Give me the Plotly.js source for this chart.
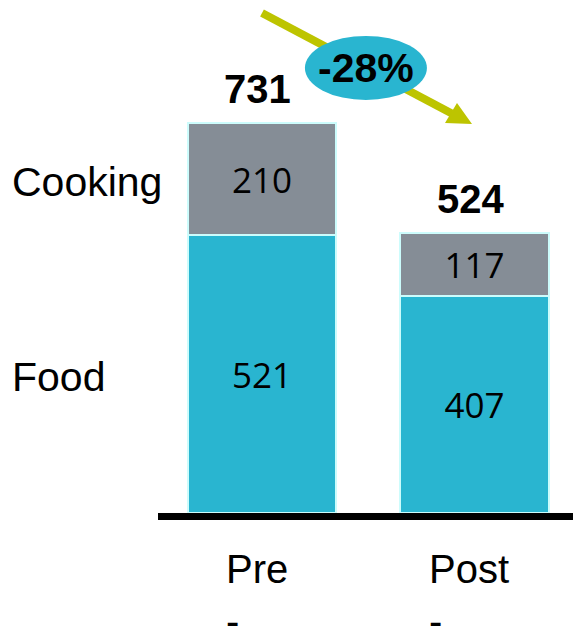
<!DOCTYPE html>
<html>
<head>
<meta charset="utf-8">
<script src="https://cdn.plot.ly/plotly-3.0.1.min.js"></script>
<style>html,body{margin:0;padding:0;background:#fff;}#chart{width:573px;height:628px;}</style>
</head>
<body>
<div id="chart"></div>
<script>
// ---- data ----
const categories = ['Pre', 'Post'];
const tickLabels = ['Pre<br>-', 'Post<br>-'];
const seriesNames = ['Food', 'Cooking'];
const foodValues = [521, 407];
const cookingValues = [210, 117];
const totals = [731, 524];
const changeLabel = '-28%';

// ---- styles ----
const FOOD = '#29B5D0';
const COOK = '#858D96';
const EDGE = '#CCFCFC';
const ARROW = '#BDC400';
const SANS = 'Liberation Sans, Arial, sans-serif';
const NUMF = 'Open Sans, Noto Sans, sans-serif';

const bw = 0.70;
const traces = [
  {type: 'bar', name: seriesNames[0], x: categories, y: foodValues, width: bw,
   marker: {color: FOOD, line: {color: EDGE, width: 2}},
   text: foodValues.map(String), textposition: 'inside', insidetextanchor: 'middle',
   textfont: {family: NUMF, size: 35, color: '#000'}, hoverinfo: 'none'},
  {type: 'bar', name: seriesNames[1], x: categories, y: cookingValues, width: bw,
   marker: {color: COOK, line: {color: EDGE, width: 2}},
   text: cookingValues.map(String), textposition: 'inside', insidetextanchor: 'middle',
   textfont: {family: NUMF, size: 35, color: '#000'}, hoverinfo: 'none'}
];

const annotations = [];
categories.forEach((c, i) => {
  // totals above bars
  annotations.push({x: c, y: totals[i], xref: 'x', yref: 'y', text: '<b>' + totals[i] + '</b>',
    showarrow: false, xanchor: 'center', yanchor: 'bottom', xshift: -4, yshift: 10,
    font: {family: SANS, size: 40, color: '#000'}});
  // category labels (left-aligned lines)
  annotations.push({x: c, y: 0, xref: 'x', yref: 'paper', text: tickLabels[i],
    showarrow: false, xanchor: 'center', yanchor: 'top', align: 'left', xshift: -5, yshift: -32,
    font: {family: SANS, size: 40, color: '#000'}});
});
// series labels at the left, beside the middle of the Pre segments
annotations.push({xref: 'paper', yref: 'y', x: -0.356, y: foodValues[0] + cookingValues[0] / 2,
  text: seriesNames[1], showarrow: false, xanchor: 'left', yanchor: 'middle', yshift: -3,
  font: {family: SANS, size: 41, color: '#000'}});
annotations.push({xref: 'paper', yref: 'y', x: -0.356, y: foodValues[0] / 2,
  text: seriesNames[0], showarrow: false, xanchor: 'left', yanchor: 'middle', yshift: -3,
  font: {family: SANS, size: 41, color: '#000'}});
// change label
annotations.push({xref: 'paper', yref: 'paper', x: 0.501, y: 0.868, text: '<b>' + changeLabel + '</b>',
  showarrow: false, xanchor: 'center', yanchor: 'middle',
  font: {family: SANS, size: 41, color: '#000'}});

const layout = {
  width: 573, height: 628,
  margin: {l: 158, r: 0, t: 0, b: 115},
  paper_bgcolor: '#fff', plot_bgcolor: '#fff',
  barmode: 'stack', showlegend: false,
  xaxis: {type: 'category', range: [-0.489, 1.464],
    showline: true, linecolor: '#000', linewidth: 7, ticks: '', showticklabels: false,
    showgrid: false, zeroline: false, fixedrange: true},
  yaxis: {range: [0, 961.6], visible: false, showgrid: false, zeroline: false, fixedrange: true},
  shapes: [
    // trend arrow shaft
    {type: 'line', xref: 'paper', yref: 'paper', x0: 0.2506, y0: 0.9747, x1: 0.708, y1: 0.7787,
     line: {color: ARROW, width: 8}, layer: 'above'},
    // trend arrow head
    {type: 'path', xref: 'paper', yref: 'paper',
     path: 'M 0.6916 0.7602 L 0.7566 0.7583 L 0.7205 0.7992 Z',
     fillcolor: ARROW, line: {width: 0}, layer: 'above'},
    // ellipse behind the change label
    {type: 'circle', xref: 'paper', yref: 'paper', x0: 0.354, x1: 0.648, y0: 0.805, y1: 0.93,
     fillcolor: FOOD, line: {width: 0}, layer: 'above'}
  ],
  annotations: annotations
};

Plotly.newPlot('chart', traces, layout, {displayModeBar: false, staticPlot: true});
</script>
</body>
</html>
